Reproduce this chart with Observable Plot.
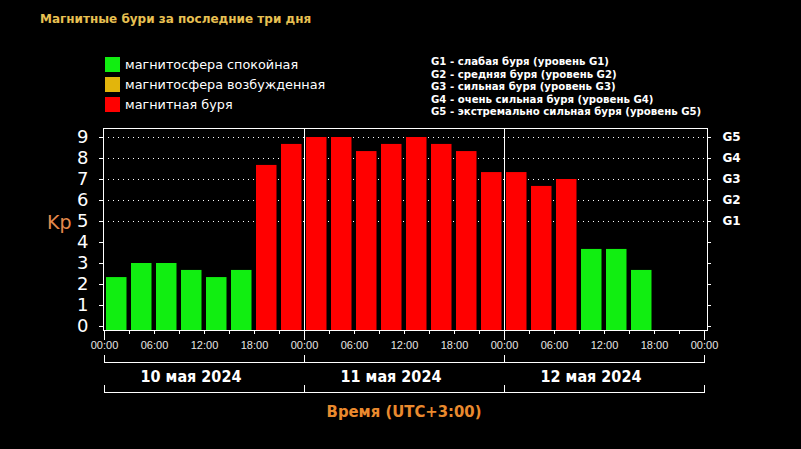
<!DOCTYPE html>
<html><head><meta charset="utf-8">
<script src="https://cdn.jsdelivr.net/npm/d3@7"></script>
<script src="https://cdn.jsdelivr.net/npm/@observablehq/plot@0.6"></script>
<style>
html,body{margin:0;padding:0;background:#000;}
#wrap{position:relative;width:801px;height:449px;overflow:hidden;background:#000;}
.abs{position:absolute;white-space:nowrap;line-height:1;}
#title{left:40px;top:12px;font:bold 12px "DejaVu Sans";color:#e8c052;}
.lg{font:12.8px "DejaVu Sans";color:#fff;}
.sw{width:15px;height:15px;}
.gl{font:bold 11.3px "DejaVu Sans Condensed","DejaVu Sans";color:#fff;}
#kp{left:47px;top:211px;font:19px "DejaVu Sans";color:#e58a4c;}
#plot{position:absolute;left:0;top:0;}
</style></head>
<body><div id="wrap"><div id="plot"></div></div>
<script>
// ---- data ----
const titleText = "Магнитные бури за последние три дня";
const legendLabels = ["магнитосфера спокойная", "магнитосфера возбужденная", "магнитная буря"];
const legendColors = ["#11ee11", "#e2b50c", "#ff0000"];
const levelText = [
  "G1 - слабая буря (уровень G1)",
  "G2 - средняя буря (уровень G2)",
  "G3 - сильная буря (уровень G3)",
  "G4 - очень сильная буря (уровень G4)",
  "G5 - экстремально сильная буря (уровень G5)"
];
const slotHours = [0,3,6,9,12,15,18,21, 24,27,30,33,36,39,42,45, 48,51,54,57,60,63,66,69];
const kpValues  = [2.33,3,3,2.67,2.33,2.67,7.67,8.67, 9,9,8.33,8.67,9,8.67,8.33,7.33, 7.33,6.67,7,3.67,3.67,2.67,null,null];
const kpTicks = [0,1,2,3,4,5,6,7,8,9];
const levelKp = [5,6,7,8,9];
const levelNames = ["G1","G2","G3","G4","G5"];
const timeTicks = [0,6,12,18,24,30,36,42,48,54,60,66,72];
const timeLabels = ["00:00","06:00","12:00","18:00","00:00","06:00","12:00","18:00","00:00","06:00","12:00","18:00","00:00"];
const dayBounds = [0,24,48,72];
const dayLabels = ["10 мая 2024","11 мая 2024","12 мая 2024"];
const xAxisTitle = "Время (UTC+3:00)";
const yAxisTitle = "Kp";

// ---- layout / html text ----
const wrap = document.getElementById("wrap");
function addDiv(cls, id, text, css){ const d=document.createElement("div"); d.className=cls; if(id) d.id=id; if(text!=null) d.textContent=text; Object.assign(d.style, css||{}); wrap.appendChild(d); return d; }
addDiv("abs","title",titleText);
legendLabels.forEach((t,i)=>{
  addDiv("abs sw",null,null,{left:"105px",top:(57+20*i)+"px",background:legendColors[i]});
  addDiv("abs lg",null,t,{left:"125px",top:(57+20*i)+"px"});
});
levelText.forEach((t,i)=>{
  addDiv("abs gl",null,t,{left:"431px",top:(55+12.5*i)+"px"});
});
addDiv("abs","kp",yAxisTitle);

// ---- chart ----
const data = slotHours.map((h,i)=>({h, kp:kpValues[i]})).filter(d=>d.kp!=null);
const yMin = -4/21, yMax = 198/21;
const colorOf = v => v >= 5 ? legendColors[2] : v >= 4 ? legendColors[1] : legendColors[0];
const threeHourTicks = slotHours.concat([72]);

const plot = Plot.plot({
  width: 801, height: 449,
  marginTop: 128, marginBottom: 119, marginLeft: 103, marginRight: 94,
  style: {background: "transparent", color: "#fff", fontFamily: "Liberation Sans"},
  x: {domain: [0,72], insetLeft: 1, insetRight: 3},
  y: {domain: [yMin, yMax]},
  marks: [
    Plot.ruleY(levelKp, {stroke: "#fff", strokeDasharray: "1 4"}),
    Plot.rect(data, {x1: "h", x2: d => d.h + 3, y1: yMin, y2: "kp", fill: d => colorOf(d.kp), insetLeft: 2, insetRight: 2.5}),
    Plot.ruleX([24,48], {stroke: "#fff"}),
    Plot.axisY({ticks: kpTicks, tickSize: 4, tickPadding: 11, tickFormat: d => String(d), fontSize: 18, fontFamily: "DejaVu Sans", label: null}),
    Plot.axisY({anchor: "right", ticks: kpTicks, tickSize: 3, tickFormat: () => "", label: null}),
    Plot.axisY({anchor: "right", ticks: levelKp, tickSize: 0, tickPadding: 15, tickFormat: d => levelNames[levelKp.indexOf(d)], fontSize: 12, fontWeight: "bold", fontFamily: "DejaVu Sans", label: null}),
    Plot.axisX({ticks: threeHourTicks, tickSize: 4, tickFormat: () => "", label: null}),
    Plot.axisX({ticks: dayBounds, tickSize: 10, tickFormat: () => "", label: null}),
    Plot.axisX({ticks: timeTicks, tickSize: 0, tickPadding: 11, tickFormat: d => timeLabels[timeTicks.indexOf(d)], fontSize: 11, fill: "#e6e6e6", label: null}),
    Plot.frame({stroke: "#fff"})
  ]
});
document.getElementById("plot").appendChild(plot);

// brackets and day labels under the axis, positioned with Plot's x scale
const xs = plot.scale("x");
const svg = d3.select(plot);
const g = svg.append("g").attr("stroke", "#fff").attr("fill", "none");
[[355,362],[385,392]].forEach(([y0,y1])=>{
  g.append("line").attr("x1", xs.apply(0)).attr("x2", xs.apply(72) + 1).attr("y1", y1+0.5).attr("y2", y1+0.5);
  dayBounds.forEach(b => g.append("line").attr("x1", xs.apply(b)+0.5).attr("x2", xs.apply(b)+0.5).attr("y1", y0).attr("y2", y1+1));
});
dayLabels.forEach((t,i)=>{
  svg.append("text").attr("x", xs.apply(dayBounds[i]*0.5 + dayBounds[i+1]*0.5)).attr("dx", -13).attr("y", 376).attr("dy","0.35em")
    .attr("text-anchor","middle").attr("fill","#fff").attr("font-family","DejaVu Sans Condensed").attr("font-weight","bold").attr("font-size",16).text(t);
});
svg.append("text").attr("x", xs.apply(36)).attr("y", 411).attr("dy","0.35em")
  .attr("text-anchor","middle").attr("fill","#ea8a2e").attr("font-family","DejaVu Sans Condensed").attr("font-weight","bold").attr("font-size",16.5).text(xAxisTitle);
</script>
</body></html>
